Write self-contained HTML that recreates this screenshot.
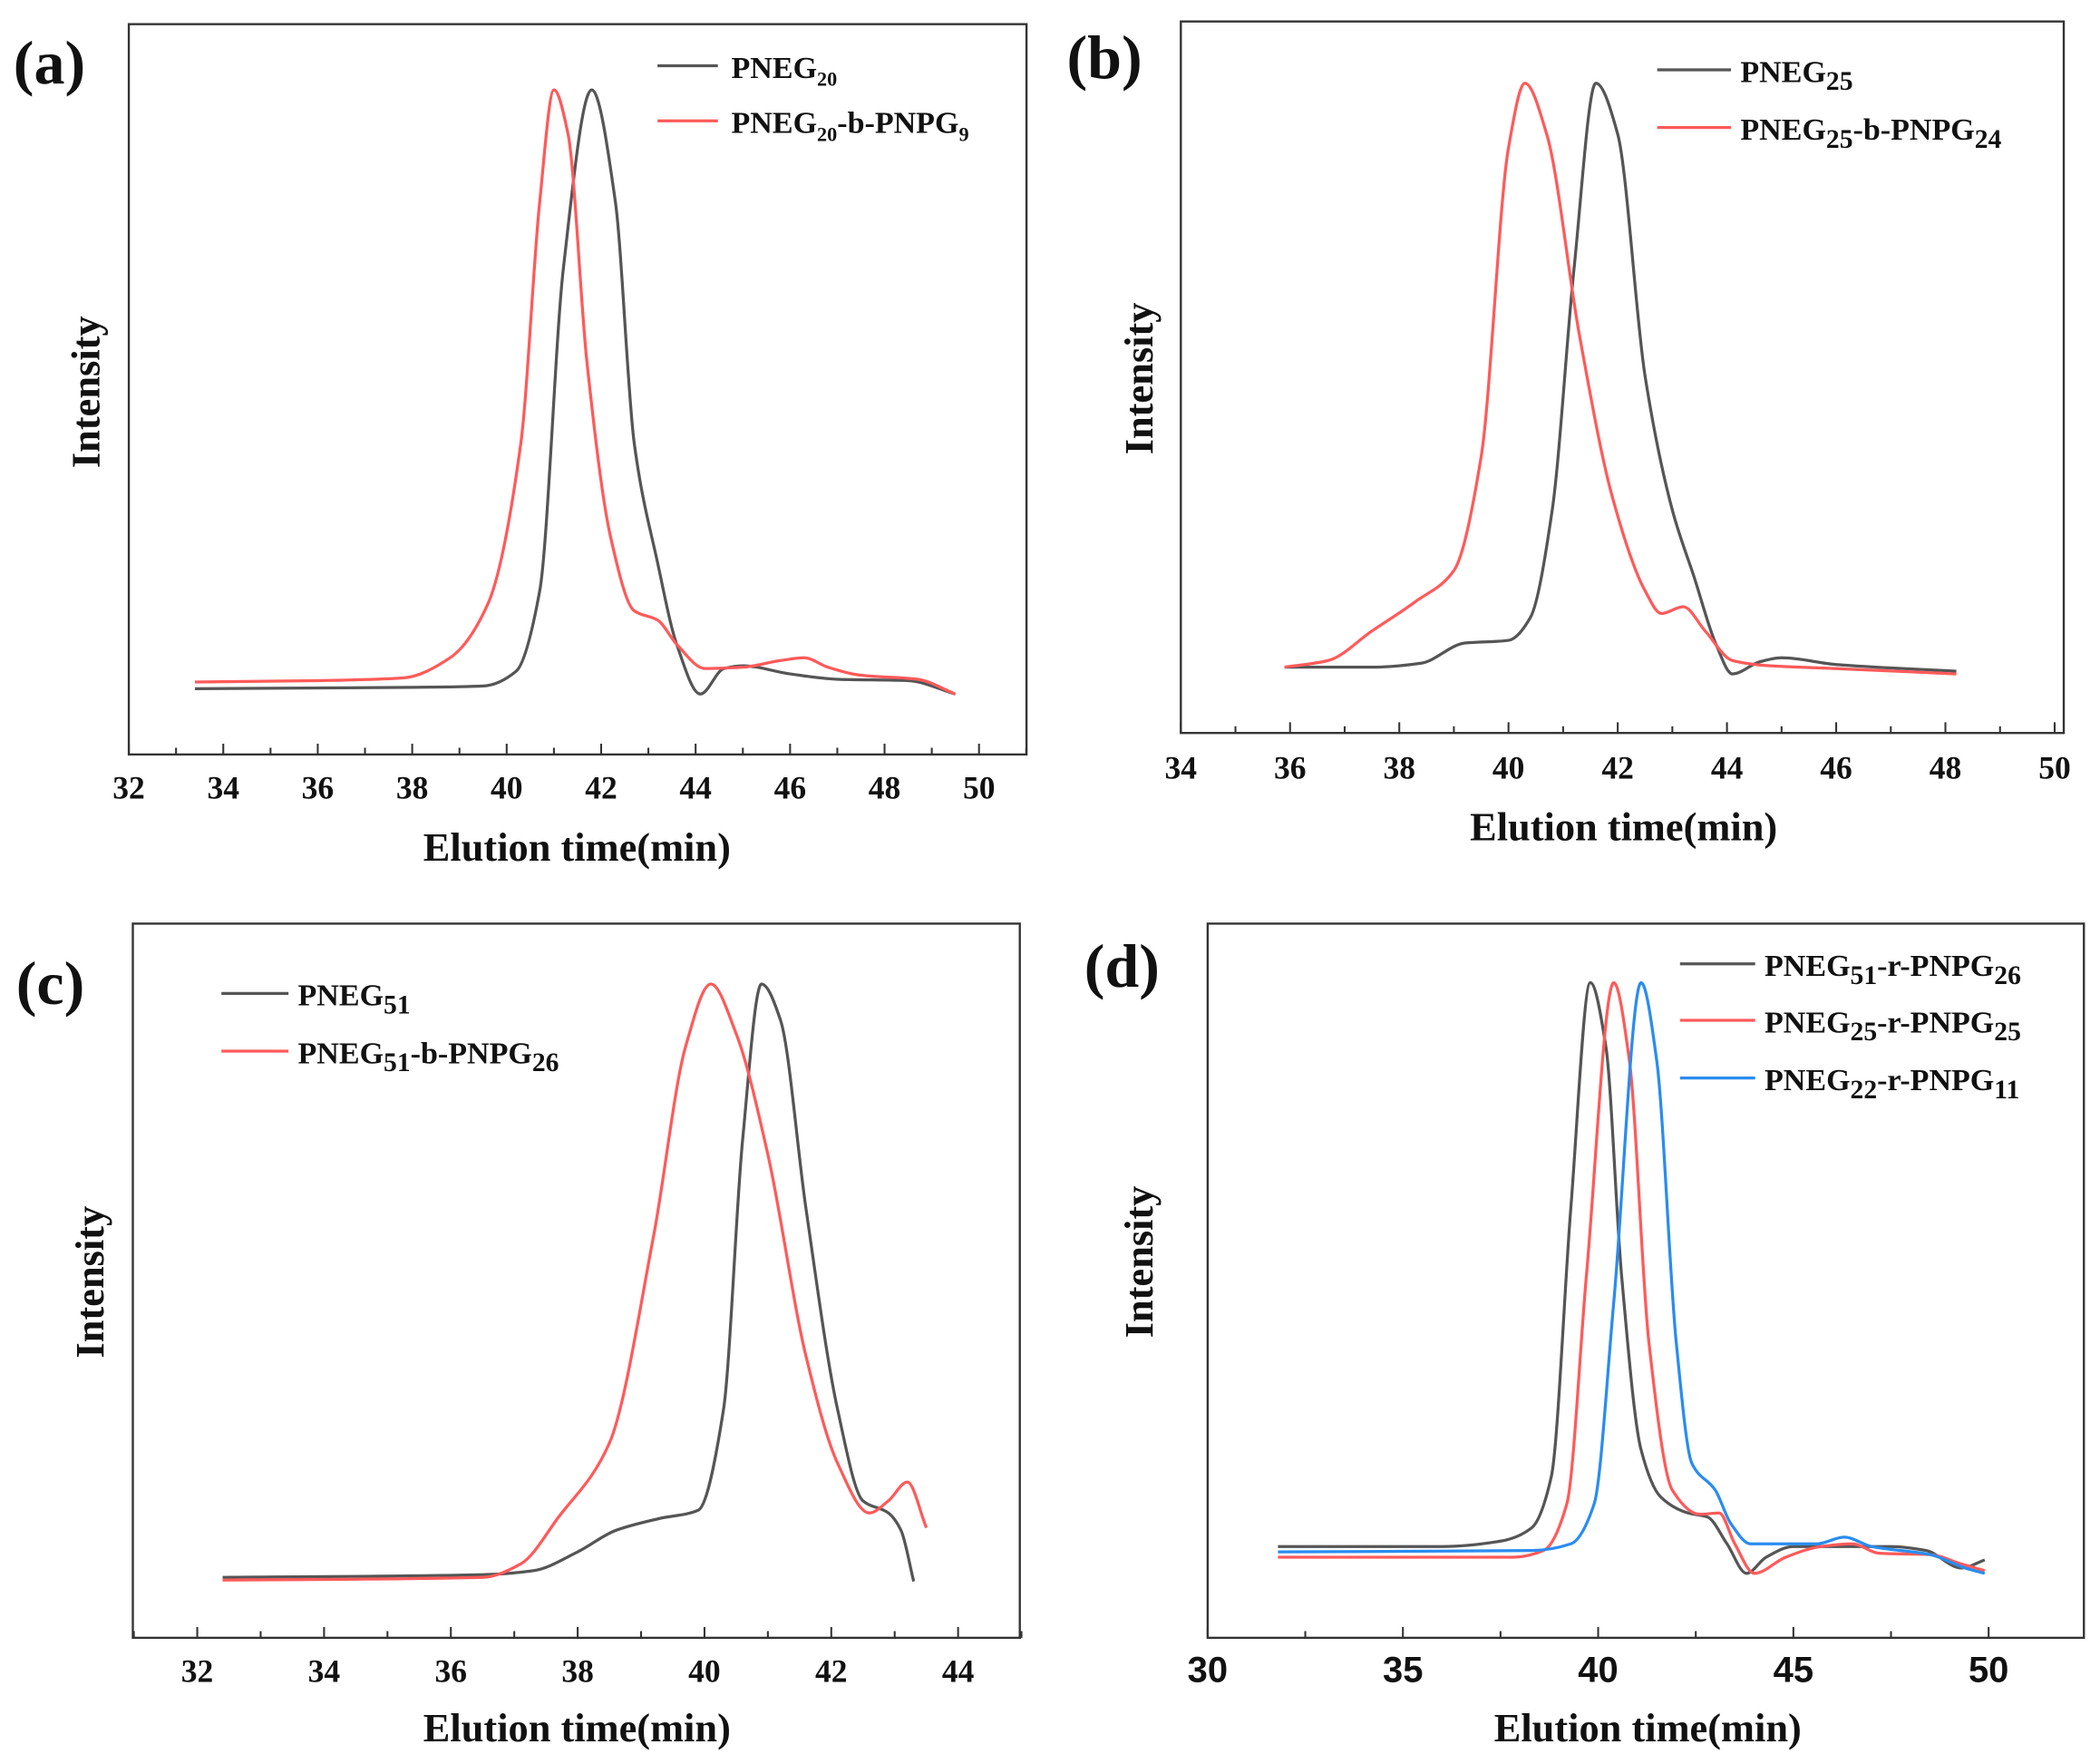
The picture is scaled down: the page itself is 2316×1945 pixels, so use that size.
<!DOCTYPE html>
<html><head><meta charset="utf-8"><style>
html,body{margin:0;padding:0;background:#fff}
svg{display:block}
text{font-family:"Liberation Serif",serif;font-weight:bold;fill:#111}
.ax{font-size:30px}
.pl{font-size:46px}
.lg{font-size:23px}
</style></head><body>
<svg id="s" width="2316" height="1945" viewBox="0 0 1565 1314" preserveAspectRatio="none" xmlns="http://www.w3.org/2000/svg">
<rect width="1565" height="1314" fill="#fff"/>
<g fill="none" stroke="#333" stroke-width="1.6">
<rect x="96" y="18" width="669" height="544"/>
<rect x="880" y="16" width="658" height="530"/>
<rect x="99" y="688" width="661" height="532"/>
<rect x="900" y="688" width="653" height="532"/>
</g>
<g id="ticks" stroke="#333" stroke-width="1.4"></g>
<g id="curves" fill="none" stroke-width="2.2" stroke-linejoin="round"></g>
<text class="pl" x="10" y="62">(a)</text>
<text class="pl" x="795" y="58">(b)</text>
<text class="pl" x="12" y="748">(c)</text>
<text class="pl" x="808" y="735">(d)</text>
<text class="ax" x="430" y="641" text-anchor="middle">Elution time(min)</text>
<text class="ax" x="1210" y="626" text-anchor="middle">Elution time(min)</text>
<text class="ax" x="430" y="1297" text-anchor="middle">Elution time(min)</text>
<text class="ax" x="1228" y="1297" text-anchor="middle">Elution time(min)</text>
<text class="ax" transform="translate(74,292) rotate(-90)" text-anchor="middle">Intensity</text>
<text class="ax" transform="translate(859,282) rotate(-90)" text-anchor="middle">Intensity</text>
<text class="ax" transform="translate(77,955) rotate(-90)" text-anchor="middle">Intensity</text>
<text class="ax" transform="translate(859,940) rotate(-90)" text-anchor="middle">Intensity</text>
<g stroke-width="2.2">
<line x1="490" y1="49" x2="535" y2="49" stroke="#555"/><line x1="490" y1="90" x2="535" y2="90" stroke="#ff5a5a"/>
<line x1="1235" y1="52" x2="1290" y2="52" stroke="#555"/><line x1="1235" y1="95" x2="1290" y2="95" stroke="#ff5a5a"/>
<line x1="165" y1="740" x2="215" y2="740" stroke="#555"/><line x1="165" y1="783" x2="215" y2="783" stroke="#ff5a5a"/>
<line x1="1252" y1="718" x2="1308" y2="718" stroke="#555"/><line x1="1252" y1="760" x2="1308" y2="760" stroke="#ff5a5a"/><line x1="1252" y1="803" x2="1308" y2="803" stroke="#2a8cf0"/>
</g>
<text class="lg" x="545" y="58">PNEG<tspan font-size="15" dy="6">20</tspan></text>
<text class="lg" x="545" y="99">PNEG<tspan font-size="15" dy="6">20</tspan><tspan dy="-6">-b-PNPG</tspan><tspan font-size="15" dy="6">9</tspan></text>
<text class="lg" x="1297" y="61">PNEG<tspan font-size="20" dy="6">25</tspan></text>
<text class="lg" x="1297" y="104">PNEG<tspan font-size="20" dy="6">25</tspan><tspan dy="-6">-b-PNPG</tspan><tspan font-size="20" dy="6">24</tspan></text>
<text class="lg" x="222" y="749">PNEG<tspan font-size="20" dy="6">51</tspan></text>
<text class="lg" x="222" y="792">PNEG<tspan font-size="20" dy="6">51</tspan><tspan dy="-6">-b-PNPG</tspan><tspan font-size="20" dy="6">26</tspan></text>
<text class="lg" x="1315" y="727">PNEG<tspan font-size="20" dy="6">51</tspan><tspan dy="-6">-r-PNPG</tspan><tspan font-size="20" dy="6">26</tspan></text>
<text class="lg" x="1315" y="769">PNEG<tspan font-size="20" dy="6">25</tspan><tspan dy="-6">-r-PNPG</tspan><tspan font-size="20" dy="6">25</tspan></text>
<text class="lg" x="1315" y="812">PNEG<tspan font-size="20" dy="6">22</tspan><tspan dy="-6">-r-PNPG</tspan><tspan font-size="20" dy="6">11</tspan></text>
<g id="labels"></g>
</svg>
<script>
var NS="http://www.w3.org/2000/svg";
function el(p,t,a,txt){var e=document.createElementNS(NS,t);for(var k in a)e.setAttribute(k,a[k]);if(txt!=null)e.textContent=txt;document.getElementById(p).appendChild(e);}
var panels=[
 {x0:96,t0:32,s:35.2,yb:562,maj:[32,34,36,38,40,42,44,46,48,50],min:1,tmax:51,ly:595,font:24},
 {x0:880,t0:34,s:40.7,yb:546,maj:[34,36,38,40,42,44,46,48,50],min:1,tmax:50.1,ly:580,font:24},
 {x0:147,t0:32,s:47.25,yb:1220,maj:[32,34,36,38,40,42,44],min:1,tmax:45,tmin:31,ly:1253,font:24},
 {x0:900,t0:30,s:29.1,yb:1220,maj:[30,35,40,45,50],min:2.5,tmax:52,ly:1253,font:27,sans:true}
];
panels.forEach(function(p){
 var tmin=p.tmin||p.t0;
 for(var t=Math.ceil(tmin/p.min)*p.min;t<=p.tmax;t+=p.min){
  var x=p.x0+(t-p.t0)*p.s;var major=p.maj.indexOf(t)>=0;
  el("ticks","line",{x1:x,y1:p.yb,x2:x,y2:p.yb-(major?8:5)});
 }
 p.maj.forEach(function(t){var a={x:p.x0+(t-p.t0)*p.s,y:p.ly,"text-anchor":"middle",style:"font-size:"+p.font+"px"+(p.sans?";font-family:'Liberation Sans',sans-serif":"")};el("labels","text",a,String(t));});
});
function path(pi,pts,col){
 var p=panels[pi];var X=pts.map(function(q){return p.x0+(q[0]-p.t0)*p.s;}),Y=pts.map(function(q){return q[1];});
 var n=X.length,d=[],m=[];
 for(var i=0;i<n-1;i++)d.push((Y[i+1]-Y[i])/(X[i+1]-X[i]));
 m[0]=d[0];m[n-1]=d[n-2];
 for(var i=1;i<n-1;i++){ if(d[i-1]*d[i]<=0)m[i]=0; else {var h0=X[i]-X[i-1],h1=X[i+1]-X[i];var w1=2*h1+h0,w2=h1+2*h0;m[i]=(w1+w2)/(w1/d[i-1]+w2/d[i]);} }
 var s="M"+X[0]+","+Y[0];
 for(var i=0;i<n-1;i++){var h=X[i+1]-X[i];
  s+=" C"+(X[i]+h/3)+","+(Y[i]+m[i]*h/3)+" "+(X[i+1]-h/3)+","+(Y[i+1]-m[i+1]*h/3)+" "+X[i+1]+","+Y[i+1];}
 el("curves","path",{d:s,stroke:col});
}
var K="#555",R="#ff5a5a",B="#2a8cf0";
path(0,[[33.4,513],[38,512],[39.5,511],[40.2,500],[40.7,440],[41.2,200],[41.8,67],[42.3,150],[42.7,330],[43.2,420],[43.6,480],[44.1,517],[44.6,498],[45,496],[46,502],[47,506],[48.5,507],[49.5,517]],K);
path(0,[[33.4,508],[36,507],[37.8,505],[38.8,490],[39.6,450],[40.3,330],[40.7,150],[41,67],[41.3,100],[41.7,270],[42.2,400],[42.7,455],[43.2,462],[43.6,480],[44.2,498],[45,497],[45.8,492],[46.3,490],[46.8,497],[47.5,503],[48.7,506],[49.5,517]],R);
path(1,[[35.9,497],[37.5,497],[38.4,494],[39.2,479],[40,477],[40.4,460],[40.8,380],[41.2,200],[41.6,62],[42,100],[42.5,280],[43,380],[43.4,430],[43.8,480],[44.1,502],[44.6,493],[45,490],[46,495],[48.2,500]],K);
path(1,[[35.9,497],[36.7,492],[37.5,470],[38.3,448],[39,425],[39.5,340],[40,110],[40.3,62],[40.7,100],[41.3,250],[41.9,370],[42.5,440],[42.8,457],[43.2,452],[43.6,470],[44.1,492],[44.8,496],[46,498],[48.2,502]],R);
path(2,[[32.4,1175],[36.5,1173],[37.3,1170],[38,1156],[38.6,1140],[39.3,1131],[39.9,1125],[40.3,1050],[40.6,850],[40.9,733],[41.2,760],[41.6,900],[42.1,1050],[42.5,1118],[42.9,1127],[43.1,1140],[43.3,1178]],K);
path(2,[[32.4,1177],[36.5,1175],[37.1,1165],[37.7,1130],[38.5,1075],[39.2,920],[39.7,780],[40.1,733],[40.5,770],[41,860],[41.6,1010],[42.1,1090],[42.6,1127],[42.9,1118],[43.2,1104],[43.5,1138]],R);
path(3,[[31.8,1152],[36,1152],[37.5,1148],[38.3,1138],[38.8,1100],[39.3,900],[39.8,732],[40.2,780],[40.6,950],[41.1,1080],[41.6,1115],[42.3,1127],[42.8,1130],[43.3,1150],[43.8,1172],[44.3,1160],[45,1152],[47.5,1152],[48.4,1155],[49.3,1168],[49.9,1162]],K);
path(3,[[31.8,1160],[37.8,1160],[38.6,1155],[39.2,1120],[39.7,950],[40.4,732],[40.8,790],[41.3,1000],[41.9,1110],[42.6,1128],[43.1,1127],[43.5,1150],[44,1172],[44.8,1160],[45.7,1152],[46.5,1150],[47.2,1157],[48.5,1158],[49.3,1165],[49.9,1170]],R);
path(3,[[31.8,1156],[38.3,1155],[39.3,1150],[39.9,1120],[40.4,970],[41.1,732],[41.5,790],[42,1000],[42.4,1090],[43,1110],[43.4,1135],[43.9,1150],[44.6,1150],[45.6,1150],[46.3,1145],[47,1152],[48.5,1158],[49.4,1168],[49.9,1172]],B);
</script>
</body></html>
